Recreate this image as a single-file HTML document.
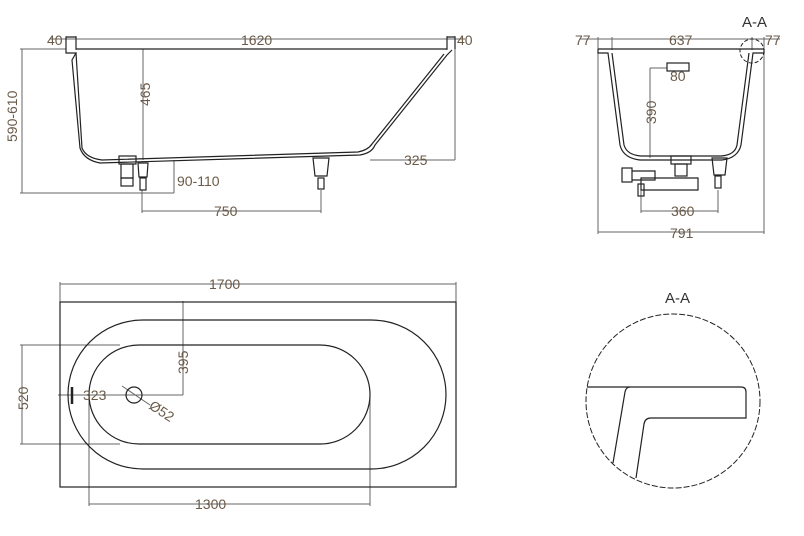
<!DOCTYPE html>
<html><head><meta charset="utf-8"><style>
html,body{margin:0;padding:0;background:#fff}
svg{display:block}
text{font-family:"Liberation Sans",sans-serif;font-size:14px;fill:#6a5a48}
</style></head><body>
<svg width="804" height="536" viewBox="0 0 804 536" xmlns="http://www.w3.org/2000/svg">
<g fill="none" stroke="#666" stroke-width="1">
<line x1="50" y1="39" x2="465" y2="39"/>
<line x1="66" y1="36" x2="66" y2="50"/><line x1="76" y1="36" x2="76" y2="50"/>
<line x1="447" y1="36" x2="447" y2="50"/><line x1="455" y1="36" x2="455" y2="160"/>
<line x1="22" y1="49" x2="22" y2="193"/><line x1="20" y1="49" x2="66" y2="49"/>
<line x1="20" y1="193" x2="174" y2="193"/>
<line x1="143" y1="49" x2="143" y2="160"/>
<line x1="174" y1="160" x2="174" y2="193"/>
<line x1="142" y1="190" x2="142" y2="213"/><line x1="321" y1="190" x2="321" y2="213"/>
<line x1="142" y1="211" x2="321" y2="211"/>
<line x1="370" y1="160" x2="455" y2="160"/>
<line x1="580" y1="39" x2="780" y2="39"/>
<line x1="598" y1="37" x2="598" y2="234"/><line x1="764" y1="37" x2="764" y2="234"/>
<line x1="612" y1="37" x2="612" y2="50"/><line x1="752" y1="37" x2="752" y2="50"/>
<line x1="598" y1="232" x2="764" y2="232"/>
<line x1="650" y1="68" x2="650" y2="158"/><line x1="650" y1="68" x2="667" y2="68"/>
<line x1="641" y1="190" x2="641" y2="213"/><line x1="718" y1="190" x2="718" y2="213"/>
<line x1="641" y1="211" x2="718" y2="211"/>
<line x1="60" y1="284" x2="456" y2="284"/><line x1="60" y1="282" x2="60" y2="302"/><line x1="456" y1="282" x2="456" y2="302"/>
<line x1="89" y1="504" x2="370" y2="504"/><line x1="89" y1="395" x2="89" y2="506"/><line x1="370" y1="395" x2="370" y2="506"/>
<line x1="22" y1="345" x2="22" y2="444"/><line x1="20" y1="345" x2="120" y2="345"/><line x1="20" y1="444" x2="120" y2="444"/>
<line x1="183" y1="301" x2="183" y2="395"/><line x1="58" y1="395" x2="183" y2="395"/>
<line x1="122" y1="386" x2="150" y2="405"/>
</g>
<g fill="none" stroke="#222" stroke-width="1.2">
<path d="M66 37 H76 V49 H447 V37 H455 V49"/>
<path d="M66 37 V53 H76 L72 60 L80 148 Q84 160 100 163 L360 155 Q372 153 375 145 L447 55 L452 50"/>
<path d="M76 53 L82 148 Q86 158 102 160 L358 152 Q368 150 372 144 L444 54"/>
<rect x="119" y="156" width="17" height="8"/><rect x="121" y="164" width="12" height="14"/><rect x="121" y="178" width="12" height="8"/>
<path d="M138 163 H148 L147 177 H139 Z"/><rect x="140" y="178" width="6" height="12"/>
<path d="M313 158 H329 L327 176 H315 Z"/><rect x="318" y="178" width="6" height="11"/>
<!-- right view -->
<path d="M598 49 H764 M598 49 V53 H608 L620 145 Q623 158 640 160 H722 Q738 158 741 145 L753 53 H764 V49"/>
<path d="M612 53 L624 145 Q627 155 641 156 H721 Q735 155 737 145 L749 53"/>
<rect x="667" y="63" width="22" height="8"/>
<rect x="671" y="156" width="20" height="8"/><rect x="675" y="164" width="12" height="12"/>
<rect x="622" y="168" width="10" height="14"/><path d="M632 171 H655 V180 H632"/>
<path d="M641 178 H698 V190 H641 Z"/><rect x="638" y="184" width="6" height="12"/>
<path d="M712 158 H727 L725 175 H714 Z"/><rect x="715" y="176" width="6" height="12"/>
<circle cx="752" cy="51" r="12" stroke-dasharray="4 2" stroke-width="1"/>
<rect x="60" y="302" width="396" height="185"/>
<rect x="68" y="320" width="378" height="149" rx="75" ry="74.5"/>
<rect x="89" y="345" width="281" height="99" rx="50" ry="49.5"/>
<circle cx="134" cy="395" r="8"/>
<line x1="72" y1="387" x2="72" y2="404" stroke-width="2.5"/>
<circle cx="673" cy="401" r="87" stroke-width="1" stroke-dasharray="6 2"/>
<path d="M587 387 H741 Q746 387 746 392 V418 H651 Q645 418 644 424 L636 478"/>
<path d="M630 387 Q626 387 625 392 L613 463"/>
</g>
<text x="47" y="45">40</text><text x="241" y="45">1620</text><text x="457" y="45">40</text>
<text transform="translate(17,142) rotate(-90)">590-610</text>
<text transform="translate(150,106) rotate(-90)">465</text>
<text x="177" y="186">90-110</text><text x="214" y="216">750</text><text x="404" y="165">325</text>
<text x="742" y="27" style="font-size:15px;fill:#333">A-A</text>
<text x="575" y="45">77</text><text x="669" y="45">637</text><text x="765" y="45">77</text>
<text x="670" y="81">80</text>
<text transform="translate(656,124) rotate(-90)">390</text>
<text x="671" y="216">360</text><text x="670" y="238">791</text>
<text x="209" y="289">1700</text><text x="195" y="509">1300</text>
<text transform="translate(28,410) rotate(-90)">520</text>
<text transform="translate(188,374) rotate(-90)">395</text>
<text x="83" y="400">323</text>
<text transform="translate(148,408) rotate(33)">Ø52</text>
<text x="665" y="303" style="font-size:15px;fill:#333">A-A</text>
</svg>
</body></html>
